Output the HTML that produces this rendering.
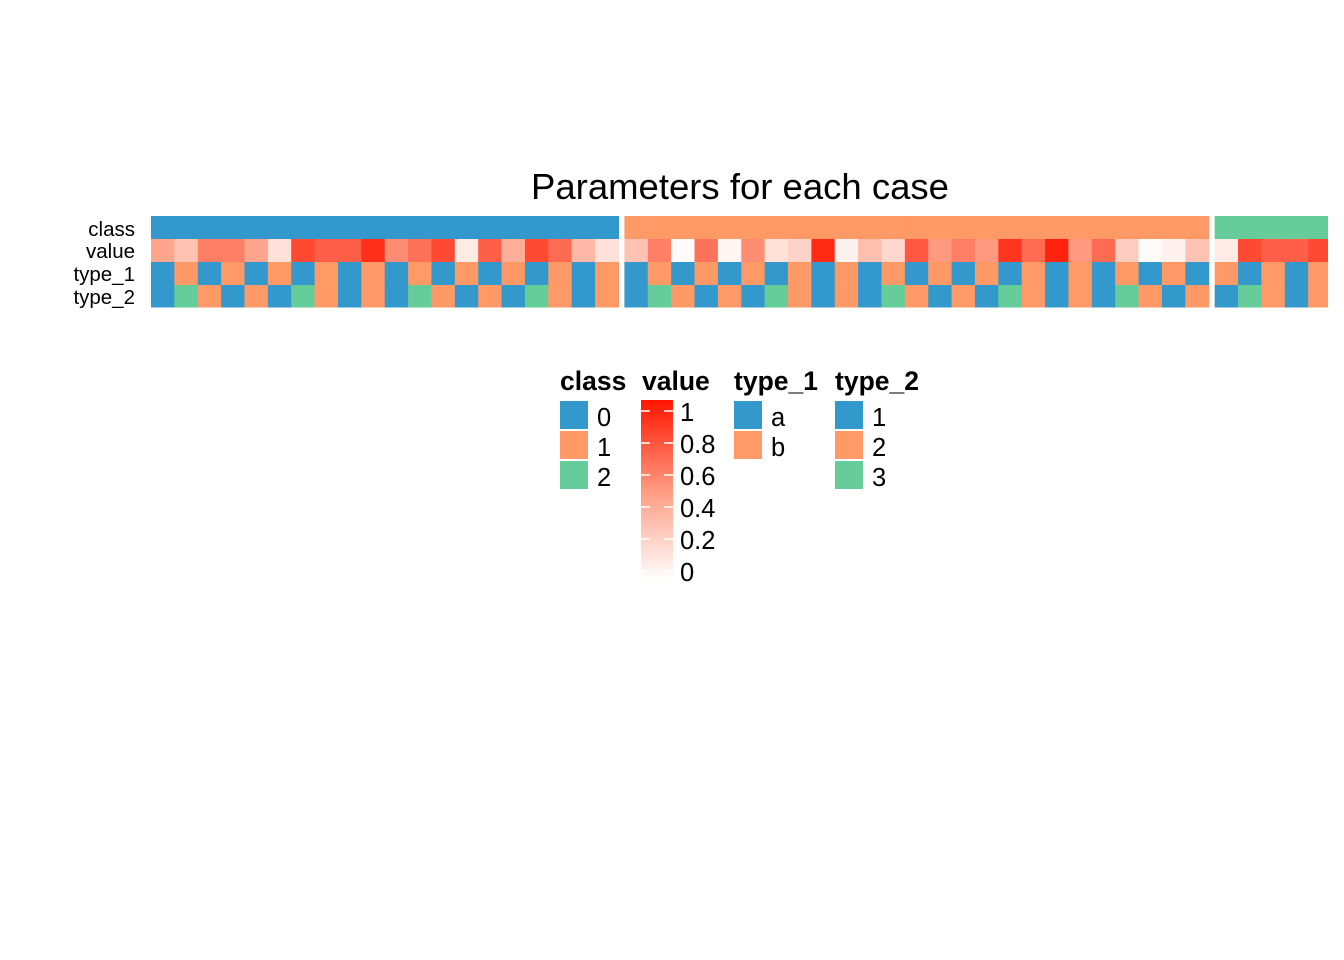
<!DOCTYPE html>
<html><head><meta charset="utf-8"><style>
body{margin:0;background:#fff;}
svg{display:block;font-family:"Liberation Sans",Arial,sans-serif;}
</style></head><body>
<svg id="chart" width="1344" height="960" viewBox="0 0 1344 960">
<text x="740" y="199" font-size="36.5" text-anchor="middle">Parameters for each case</text>
<g id="rowlabels" font-size="20.5" text-anchor="end">
<text x="135" y="236">class</text>
<text x="135" y="258">value</text>
<text x="135" y="281">type_1</text>
<text x="135" y="304">type_2</text>
</g>
<g id="cells"></g>
<g id="legend">
<text x="560" y="390" font-size="26.5" font-weight="bold">class</text>
<text x="642" y="390" font-size="26.5" font-weight="bold">value</text>
<text x="734" y="390" font-size="26.5" font-weight="bold">type_1</text>
<text x="835" y="390" font-size="26.5" font-weight="bold">type_2</text>
<defs><linearGradient id="grad" x1="0" y1="1" x2="0" y2="0">
<stop offset="0" stop-color="#ffffff"/><stop offset="0.5" stop-color="#ff9a80"/><stop offset="1" stop-color="#ff1500"/>
</linearGradient></defs>
<rect x="641" y="400" width="32" height="180" fill="url(#grad)"/>
</g>
</svg>
<script>
const classes=[0,0,0,0,0,0,0,0,0,0,0,0,0,0,0,0,0,0,0,0,1,1,1,1,1,1,1,1,1,1,1,1,1,1,1,1,1,1,1,1,1,1,1,1,1,2,2,2,2,2];
const values=[0.45,0.3,0.6,0.6,0.45,0.15,0.8,0.72,0.72,0.9,0.55,0.65,0.8,0.1,0.72,0.4,0.8,0.68,0.35,0.15,
0.3,0.6,0.02,0.65,0.05,0.55,0.15,0.22,0.92,0.07,0.32,0.2,0.75,0.5,0.6,0.5,0.88,0.68,0.95,0.5,0.68,0.25,0.02,0.07,0.3,
0.1,0.8,0.72,0.72,0.8];
const type1=["a","b","a","b","a","b","a","b","a","b","a","b","a","b","a","b","a","b","a","b",
"a","b","a","b","a","b","a","b","a","b","a","b","a","b","a","b","a","b","a","b","a","b","a","b","a",
"b","a","b","a","b"];
const type2=[1,3,2,1,2,1,3,2,1,2,1,3,2,1,2,1,3,2,1,2,
1,3,2,1,2,1,3,2,1,2,1,3,2,1,2,1,3,2,1,2,1,3,2,1,2,
1,3,2,1,2];
const valueTicks=[0,0.2,0.4,0.6,0.8,1];
const classLevels=[0,1,2], type1Levels=["a","b"], type2Levels=[1,2,3];

const NS="http://www.w3.org/2000/svg";
const catCol={0:"#3399cc",1:"#ff9966",2:"#66cc99",a:"#3399cc",b:"#ff9966"};
const t2Col={1:"#3399cc",2:"#ff9966",3:"#66cc99"};
function valCol(v){
  const s=[[0,[255,255,255]],[0.5,[255,154,128]],[1,[255,21,0]]];
  let i=v<=0.5?0:1;const a=s[i],b=s[i+1];const t=(v-a[0])/(b[0]-a[0]);
  const c=a[1].map((x,k)=>Math.round(x+(b[1][k]-x)*t));return `rgb(${c})`;
}
const cw=23.37, gap=6, x0=151;
function xPos(i){let g=0;for(let j=1;j<=i;j++)if(classes[j]!==classes[j-1])g++;return x0+i*cw+g*gap;}
const rowsY=[216,239,262,285], rowH=[23,23,23,22];
const cells=document.getElementById('cells');
function rect(x,y,w,h,f,name,inter){const r=document.createElementNS(NS,'rect');
r.setAttribute('x',x);r.setAttribute('y',y);r.setAttribute('width',w);r.setAttribute('height',h);r.setAttribute('fill',f);


return r;}
for(let i=0;i<classes.length;i++){
  const x=xPos(i); if(x>=1328)break; const w=Math.min(cw+0.6,1328-x);
  const cols=[catCol[classes[i]],valCol(values[i]),catCol[type1[i]],t2Col[type2[i]]];
  const names=['class-cell','value-cell','type-1-cell','type-2-cell'];
  for(let r=0;r<4;r++){const el=rect(x,rowsY[r],w,rowH[r]+0.5,cols[r],names[r]+'-'+i,'false');cells.appendChild(el);}
}
const lg=document.getElementById('legend');
function txt(x,y,s,name){const t=document.createElementNS(NS,'text');t.setAttribute('x',x);t.setAttribute('y',y);t.setAttribute('font-size','25.5');t.textContent=s;


lg.appendChild(t);}
classLevels.forEach((c,k)=>{lg.appendChild(rect(560,401+k*30,28,28,catCol[c],'legend-key-class-'+c,'false'));txt(597,426+k*30,String(c),'legend-label-class-'+c);});
type1Levels.forEach((c,k)=>{lg.appendChild(rect(734,401+k*30,28,28,catCol[c],'legend-key-type-1-'+c,'false'));txt(771,426+k*30,c,'legend-label-type-1-'+c);});
type2Levels.forEach((c,k)=>{lg.appendChild(rect(835,401+k*30,28,28,t2Col[c],'legend-key-type-2-'+c,'false'));txt(872,426+k*30,String(c),'legend-label-type-2-'+c);});
valueTicks.forEach(v=>{const y=571-v*160;
  for(const x of [641,664]){const l=document.createElementNS(NS,'line');l.setAttribute('x1',x);l.setAttribute('x2',x+9);l.setAttribute('y1',y);l.setAttribute('y2',y);l.setAttribute('stroke','#fff');l.setAttribute('stroke-width','1.5');
  
  
  lg.appendChild(l);}
  txt(680,y+10,String(v),'colorbar-label-'+v);});
</script>
</body></html>
